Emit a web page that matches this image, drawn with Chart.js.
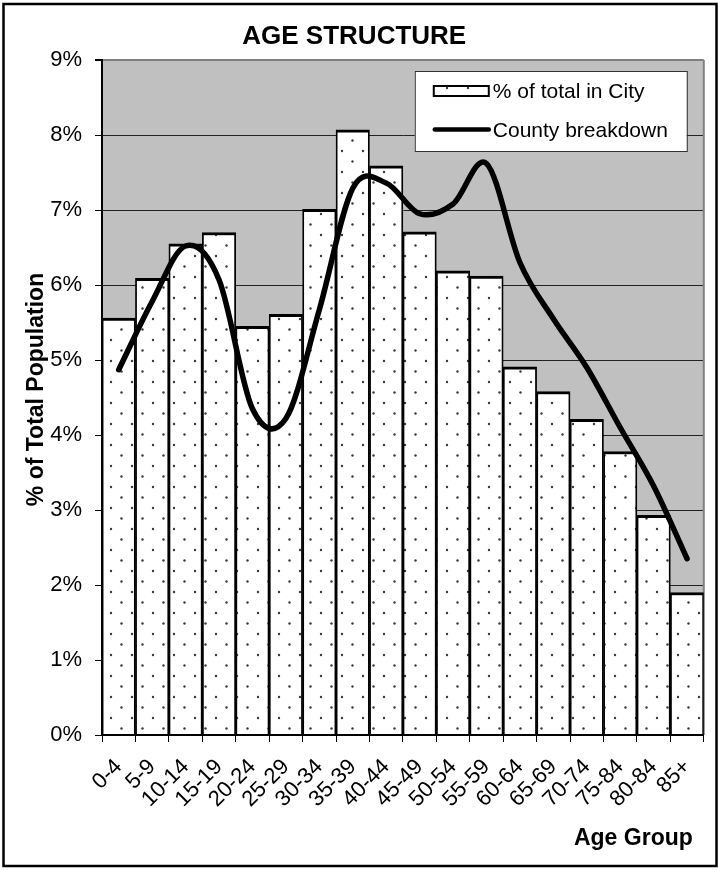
<!DOCTYPE html>
<html>
<head>
<meta charset="utf-8">
<script src="https://cdn.jsdelivr.net/npm/chart.js@4/dist/chart.umd.min.js"></script>
<style>
html,body{margin:0;padding:0;background:#fff;}
canvas{display:block;}
</style>
</head>
<body>
<canvas id="c" width="718" height="870"></canvas>
<script>
// ---- data ----
const categories = ['0-4','5-9','10-14','15-19','20-24','25-29','30-34','35-39','40-44','45-49','50-54','55-59','60-64','65-69','70-74','75-84','80-84','85+'];
const cityShare   = [5.56, 6.09, 6.55, 6.70, 5.45, 5.61, 7.01, 8.07, 7.59, 6.71, 6.19, 6.12, 4.91, 4.58, 4.21, 3.78, 2.93, 1.90];
const countyShare = [4.87, 5.78, 6.52, 6.07, 4.35, 4.22, 5.67, 7.29, 7.36, 6.95, 7.08, 7.62, 6.30, 5.55, 4.90, 4.10, 3.32, 2.35];
const yTickLabels = ['0%','1%','2%','3%','4%','5%','6%','7%','8%','9%'];
const seriesLabels = ['% of total in City', 'County breakdown'];
const titleText = 'AGE STRUCTURE';
const xTitleText = 'Age Group';
const yTitleText = '% of Total Population';

const FONT = '"Liberation Sans", Arial, Helvetica, sans-serif';
const canvas = document.getElementById('c');
const ctx = canvas.getContext('2d');

// dotted fill pattern
function makeDots() {
  const t = document.createElement('canvas');
  t.width = 21; t.height = 21;
  const g = t.getContext('2d');
  g.fillStyle = '#ffffff';
  g.fillRect(0, 0, 21, 21);
  g.fillStyle = '#3a3a3a';
  [[6, 4], [16.5, 14.5]].forEach(function (p) {
    g.beginPath(); g.arc(p[0], p[1], 1.2, 0, Math.PI * 2); g.fill();
  });
  return ctx.createPattern(t, 'repeat');
}
const dots = makeDots();

const backgroundPlugin = {
  id: 'bgPlot',
  beforeDraw(chart) {
    const c = chart.ctx, a = chart.chartArea;
    c.save();
    c.fillStyle = '#ffffff';
    c.fillRect(0, 0, chart.width, chart.height);
    c.fillStyle = '#c0c0c0';
    c.fillRect(a.left, a.top, a.right - a.left, a.bottom - a.top);
    c.restore();
  },
  beforeDatasetsDraw(chart) {
    const c = chart.ctx, a = chart.chartArea;
    c.save();
    c.strokeStyle = '#808080';
    c.lineWidth = 2;
    c.beginPath();
    c.moveTo(a.right, a.top);
    c.lineTo(a.right, a.bottom);
    c.stroke();
    c.restore();
  }
};

// Catmull-Rom style smoothing (like a spreadsheet "smoothed line")
const smoothPlugin = {
  id: 'smoothLine',
  beforeDatasetDraw(chart, args) {
    const meta = args.meta;
    if (meta.type !== 'line') return;
    const line = meta.dataset;
    if (line.updateControlPoints) line.updateControlPoints(chart.chartArea, 'x');
    const pts = meta.data, n = pts.length;
    for (let i = 0; i < n; i++) {
      const p = pts[i];
      const prev = pts[Math.max(i - 1, 0)], next = pts[Math.min(i + 1, n - 1)];
      const k = (i === 0 || i === n - 1) ? 1 : 0.5;
      const mx = (next.x - prev.x) * k, my = (next.y - prev.y) * k;
      p.cp1x = p.x - mx / 3; p.cp1y = p.y - my / 3;
      p.cp2x = p.x + mx / 3; p.cp2y = p.y + my / 3;
    }
    line._path = undefined;
  }
};

const legendPlugin = {
  id: 'legendBox',
  afterDraw(chart) {
    const c = chart.ctx, a = chart.chartArea, ds = chart.data.datasets;
    const bx = a.right - 289, by = a.top + 11, bw = 272, bh = 80;
    c.save();
    c.fillStyle = '#ffffff';
    c.fillRect(bx, by, bw, bh);
    c.strokeStyle = '#333333';
    c.lineWidth = 1;
    c.strokeRect(bx + 0.5, by + 0.5, bw, bh);
    c.fillStyle = ds[0].backgroundColor;
    c.fillRect(bx + 19, by + 15, 55, 10);
    c.strokeStyle = '#000';
    c.lineWidth = 2;
    c.strokeRect(bx + 19, by + 15, 55, 10);
    c.beginPath();
    c.lineCap = 'round';
    c.lineWidth = 4.5;
    c.moveTo(bx + 20, by + 58.5);
    c.lineTo(bx + 74, by + 58.5);
    c.stroke();
    c.fillStyle = '#000';
    c.font = '21px ' + FONT;
    c.textAlign = 'left';
    c.textBaseline = 'middle';
    c.fillText(ds[0].label, bx + 78, by + 21);
    c.fillText(ds[1].label, bx + 78, by + 60);
    c.restore();
  }
};

const axisTitlePlugin = {
  id: 'axisTitles',
  afterDraw(chart) {
    const c = chart.ctx, a = chart.chartArea;
    c.save();
    c.fillStyle = '#000';
    c.font = 'bold 23px ' + FONT;
    c.textAlign = 'right';
    c.textBaseline = 'alphabetic';
    c.fillText(xTitleText, a.right - 11, a.bottom + 109.5);
    c.translate(37, (a.top + a.bottom) / 2 - 8);
    c.rotate(-Math.PI / 2);
    c.textAlign = 'center';
    c.textBaseline = 'middle';
    c.fillText(yTitleText, 0, 0);
    c.restore();
    c.save();
    c.strokeStyle = '#000';
    c.lineWidth = 2.5;
    c.strokeRect(3.5, 4, 713, 862);
    c.restore();
  }
};

new Chart(ctx, {
  type: 'bar',
  data: {
    labels: categories,
    datasets: [
      {
        type: 'bar',
        label: seriesLabels[0],
        data: cityShare,
        backgroundColor: dots,
        borderColor: '#000',
        borderWidth: { top: 3, left: 1.8, right: 1.8, bottom: 0 },
        borderSkipped: false,
        categoryPercentage: 1,
        barPercentage: 1,
        order: 2
      },
      {
        type: 'line',
        label: seriesLabels[1],
        data: countyShare,
        borderColor: '#000',
        borderWidth: 5.5,
        pointRadius: 0,
        tension: 0.33,
        fill: false,
        borderCapStyle: 'round',
        borderJoinStyle: 'round',
        order: 1
      }
    ]
  },
  options: {
    responsive: false,
    devicePixelRatio: 1,
    animation: false,
    events: [],
    layout: { padding: { left: 0, right: 9.5, top: 0, bottom: 0 } },
    plugins: {
      legend: { display: false },
      tooltip: { enabled: false },
      title: {
        display: true,
        text: titleText,
        color: '#000',
        font: { family: FONT, size: 26, weight: 'bold', lineHeight: 1.2 },
        padding: { top: 21.4, bottom: 7.4 }
      }
    },
    scales: {
      x: {
        grid: { drawOnChartArea: false, drawTicks: true, tickLength: 7, color: '#000', lineWidth: 1, offset: true },
        border: { color: '#000', width: 2, z: 1 },
        ticks: { autoSkip: false, maxRotation: 45, minRotation: 45, padding: 12, color: '#000', font: { family: FONT, size: 22 } },
        afterFit(s) { s.height = 135; }
      },
      y: {
        min: 0,
        max: 9,
        ticks: {
          stepSize: 1,
          padding: 13,
          color: '#000',
          font: { family: FONT, size: 22 },
          callback: function (v, i) { return yTickLabels[i]; }
        },
        grid: {
          color: function (c) { return c.tick && c.tick.value === 9 ? '#808080' : '#222222'; },
          lineWidth: function (c) { return c.tick && c.tick.value === 9 ? 2 : 1; },
          tickColor: '#000',
          tickLength: 7
        },
        border: { color: '#000', width: 2, z: 1 },
        afterFit(s) { s.width = 102; }
      }
    }
  },
  plugins: [backgroundPlugin, smoothPlugin, legendPlugin, axisTitlePlugin]
});
</script>
</body>
</html>
